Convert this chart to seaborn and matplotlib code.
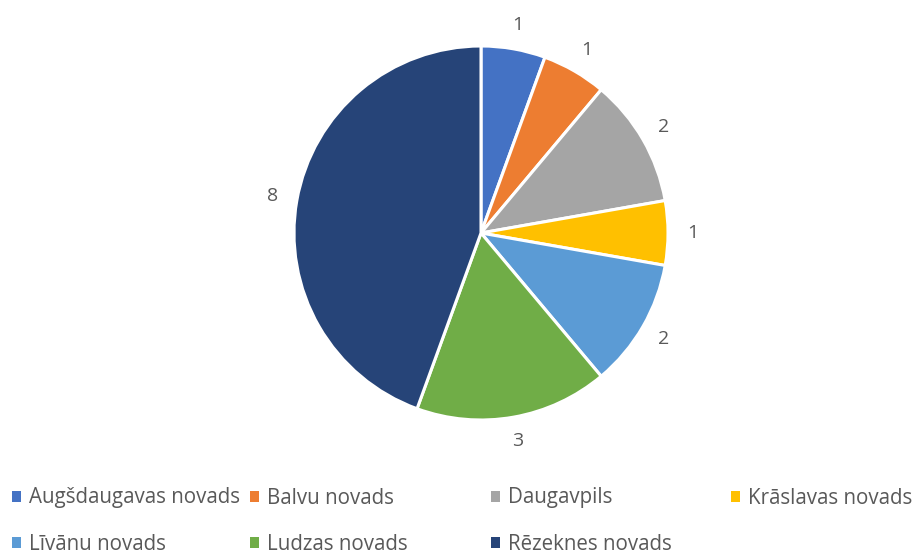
import matplotlib
matplotlib.use("Agg")
import matplotlib.pyplot as plt
import seaborn as sns
from matplotlib.patches import Rectangle

categories = ["Augšdaugavas novads", "Balvu novads", "Daugavpils", "Krāslavas novads",
              "Līvānu novads", "Ludzas novads", "Rēzeknes novads"]
values = [1, 1, 2, 1, 2, 3, 8]
colors = ["#4472C4", "#ED7D31", "#A5A5A5", "#FFC000", "#5B9BD5", "#70AD47", "#264478"]

sns.set_style("white")
plt.rcParams['font.family'] = ['Open Sans', 'DejaVu Sans']
text_color = "#595959"

W, H = 917, 555
fig = plt.figure(figsize=(W / 100, H / 100), dpi=100)
cx, cy, r = 481, 233, 187
ax = fig.add_axes([(cx - r) / W, (H - cy - r) / H, 2 * r / W, 2 * r / H])

total = sum(values)
wedges, texts, autotexts = ax.pie(
    values, colors=colors, startangle=90, counterclock=False,
    autopct=lambda p: f"{round(p * total / 100)}", pctdistance=1.13,
    wedgeprops=dict(edgecolor="white", linewidth=2.2),
    textprops=dict(color=text_color, fontsize=14))
ax.set_xlim(-1, 1)
ax.set_ylim(-1, 1)
ax.set_aspect("equal")
ax.axis("off")

# Legend entries placed on an equal-width grid
col_x = [12, 250, 491, 731]
row_y = [498, 544]
for i, (cat, col) in enumerate(zip(categories, colors)):
    row, c = divmod(i, 4)
    handle = Rectangle((0, 0), 1, 1, facecolor=col, edgecolor="none")
    x = col_x[c]
    y = row_y[row]
    fig.legend([handle], [cat], loc="center left",
               bbox_to_anchor=(x / W, 1 - y / H), frameon=False,
               handlelength=0.45, handleheight=0.45, handletextpad=0.4,
               borderpad=0, borderaxespad=0,
               prop=dict(size=14.8), labelcolor=text_color)

fig.savefig("out.png", dpi=100, facecolor="white")
